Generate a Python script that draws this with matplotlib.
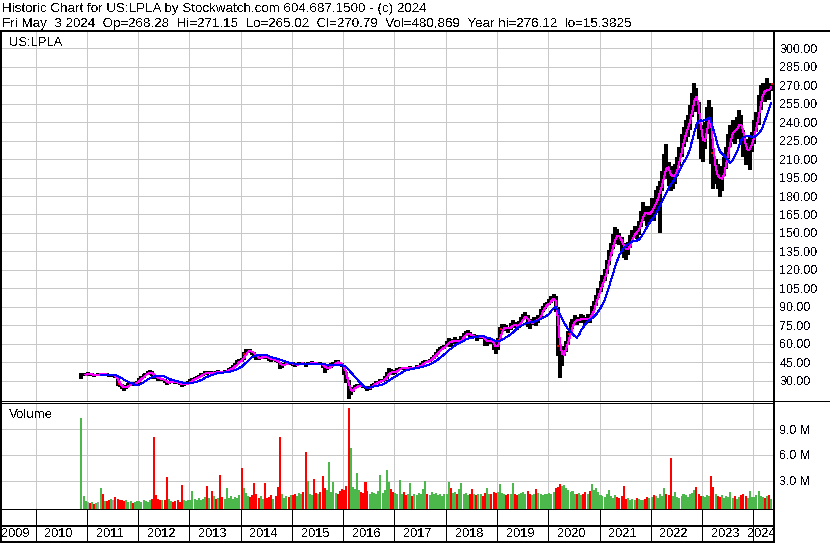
import numpy as np
import pandas as pd
import matplotlib
matplotlib.use("Agg")
import matplotlib.pyplot as plt
from matplotlib.lines import Line2D

plt.rcParams['font.family'] = ['Liberation Sans', 'DejaVu Sans']
plt.rcParams['text.antialiased'] = False
plt.rcParams['lines.antialiased'] = False
plt.rcParams['patch.antialiased'] = False

# ---------------- data ----------------
header_line1 = "Historic Chart for US:LPLA by Stockwatch.com 604.687.1500 - (c) 2024"
header_parts2 = ["Fri May", "3 2024", "Op=268.28", "Hi=271.15", "Lo=265.02",
                 "Cl=270.79", "Vol=480,869", "Year hi=276.12", "lo=15.3825"]
symbol = "US:LPLA"
volume_title = "Volume"
price_ticks = [30, 45, 60, 75, 90, 105, 120, 135, 150, 165, 180, 195, 210, 225,
               240, 255, 270, 285, 300]
vol_ticks = [3.0, 6.0, 9.0]
year_labels = list(range(2009, 2025))
ipo_price = 30.0

# half-month periods (1st / 15th of each month), Nov 2010 .. May 2024
period_start = pd.date_range('2010-11-15', '2024-05-01', freq='SMS')

close = [
    34.0, 35.0, 35.5,
    35.5, 34.5, 35.0, 34.0, 35.0, 35.0, 35.5, 34.5, 35.5, 35.0, 34.0, 34.5, 34.5, 33.0, 27.0, 26.0, 24.5, 23.5, 25.5, 27.0, 27.5, 27.0, 28.0, 29.0,
    31.0, 33.0, 34.5, 35.5, 36.5, 37.0, 35.0, 33.0, 32.5, 31.5, 31.0, 31.5, 29.0, 28.0, 28.5, 29.5, 29.0, 28.5, 28.0, 27.5, 26.5, 27.0, 27.5, 28.5,
    30.0, 31.5, 32.0, 32.5, 33.5, 35.0, 35.5, 36.8, 36.0, 37.0, 36.0, 37.0, 36.5, 37.5, 37.0, 36.5, 37.5, 38.0, 39.0, 40.0, 41.5, 43.0, 45.0, 47.0,
    46.5, 52.0, 54.0, 54.5, 54.0, 52.5, 50.0, 48.5, 48.0, 49.0, 50.0, 49.5, 48.5, 47.5, 46.5, 47.5, 46.0, 45.0, 41.0, 42.5, 43.5, 44.5, 44.0, 44.5,
    43.0, 42.5, 43.5, 44.0, 44.5, 43.5, 43.0, 44.0, 44.5, 45.0, 44.0, 43.5, 44.0, 43.5, 42.0, 39.0, 40.5, 41.0, 42.5, 44.0, 45.5, 45.0, 43.5, 42.5,
    37.0, 30.0, 19.0, 21.5, 24.0, 25.0, 25.5, 26.5, 25.5, 25.0, 24.5, 23.0, 25.0, 26.5, 27.5, 28.5, 29.0, 30.0, 30.5, 32.0, 35.0, 38.0, 37.0, 35.5,
    38.0, 39.5, 40.0, 40.5, 40.0, 39.5, 40.5, 41.0, 40.0, 40.5, 41.5, 42.0, 43.0, 44.5, 46.0, 45.5, 47.0, 48.5, 50.0, 52.0, 54.5, 56.0, 57.0, 57.5,
    61.0, 63.5, 60.5, 62.0, 63.0, 61.0, 62.5, 64.5, 67.0, 68.5, 69.0, 66.0, 65.5, 66.5, 64.0, 65.5, 66.0, 65.0, 60.0, 62.5, 63.5, 61.5, 57.0, 55.0,
    63.0, 72.0, 73.5, 74.0, 72.0, 71.5, 75.0, 76.5, 74.5, 73.0, 77.0, 80.5, 82.0, 83.5, 76.0, 75.5, 78.5, 80.0, 77.0, 81.5, 86.0, 89.0, 91.5, 92.5,
    94.0, 96.5, 98.5, 90.0, 58.0, 45.0, 53.0, 55.0, 60.0, 68.0, 74.0, 78.0, 80.5, 78.0, 80.0, 81.5, 80.0, 78.5, 82.0, 79.5, 88.0, 92.0, 98.0, 103.0,
    108.0, 112.0, 118.0, 125.0, 132.0, 138.0, 145.0, 150.0, 147.0, 145.0, 140.0, 136.0, 134.0, 140.0, 145.0, 148.0, 152.0, 150.0, 156.0, 163.0, 170.0, 166.0, 162.0, 168.0,
    172.0, 170.0, 180.0, 184.0, 186.0, 196.0, 208.0, 202.0, 200.0, 192.0, 196.0, 200.0, 206.0, 214.0, 224.0, 230.0, 236.0, 238.0, 248.0, 258.0, 266.0, 258.0, 238.0, 218.0,
    222.0, 234.0, 246.0, 250.0, 215.0, 196.0, 200.0, 196.0, 188.0, 198.0, 206.0, 214.0, 224.0, 232.0, 236.0, 230.0, 238.0, 244.0, 232.0, 220.0, 214.0, 218.0, 222.0, 226.0,
    236.0, 242.0, 254.0, 264.0, 266.0, 264.0, 268.0, 266.0, 270.8,
]

high = [
    36.0, 36.0, 36.5,
    37.0, 36.0, 36.0, 35.5, 35.5, 36.0, 36.5, 35.5, 36.5, 36.0, 35.5, 35.5, 35.5, 35.0, 33.0, 28.0, 27.0, 25.5, 26.5, 28.5, 29.0, 28.5, 29.0, 30.0,
    32.0, 34.0, 35.5, 36.5, 37.5, 38.5, 37.5, 35.5, 34.0, 33.0, 32.0, 32.5, 31.5, 29.5, 29.5, 30.5, 30.5, 29.5, 29.0, 28.5, 28.0, 28.0, 28.5, 29.5,
    31.0, 32.5, 33.0, 33.5, 34.5, 36.0, 36.5, 37.5, 37.5, 38.0, 37.5, 38.0, 38.0, 38.5, 38.0, 37.5, 38.5, 39.0, 40.0, 41.5, 43.0, 44.5, 46.5, 48.0,
    48.5, 53.5, 55.5, 56.0, 55.5, 54.5, 53.0, 50.5, 49.5, 50.0, 51.0, 51.0, 50.0, 49.0, 48.0, 48.5, 48.0, 46.5, 45.0, 43.5, 44.5, 45.5, 45.5, 45.5,
    45.0, 44.0, 44.5, 45.0, 45.5, 45.0, 44.5, 45.0, 45.5, 46.0, 45.5, 45.0, 45.0, 45.0, 44.0, 42.5, 42.0, 42.5, 44.0, 45.5, 47.0, 46.5, 45.5, 44.5,
    42.5, 37.0, 30.5, 23.0, 25.0, 26.5, 27.0, 27.5, 27.0, 26.0, 26.0, 25.0, 26.0, 27.5, 28.5, 29.5, 30.0, 31.0, 31.5, 33.5, 37.0, 40.0, 39.5, 37.5,
    39.0, 40.5, 41.0, 41.5, 41.5, 40.5, 41.0, 42.0, 41.5, 41.5, 42.5, 43.0, 44.0, 46.0, 47.0, 47.0, 48.0, 49.5, 51.0, 53.5, 56.0, 57.5, 58.5, 59.0,
    62.5, 65.0, 64.0, 63.5, 65.5, 64.0, 64.0, 66.0, 68.5, 70.0, 71.5, 69.5, 67.5, 68.0, 67.0, 67.0, 67.5, 67.0, 65.5, 64.0, 65.5, 64.0, 62.0, 58.0,
    65.0, 74.0, 76.0, 76.0, 75.0, 73.5, 76.5, 79.0, 77.5, 75.5, 78.5, 82.0, 84.0, 86.0, 83.0, 78.0, 80.5, 82.0, 80.5, 83.0, 88.0, 90.5, 93.0, 94.0,
    96.0, 98.5, 100.5, 99.0, 90.0, 60.0, 56.0, 58.0, 62.0, 70.0, 78.0, 80.5, 83.0, 82.0, 82.0, 84.0, 83.5, 81.5, 84.0, 83.5, 91.0, 94.5, 100.0, 105.5,
    111.0, 116.0, 121.0, 128.0, 136.0, 142.0, 149.0, 155.0, 153.0, 150.0, 147.0, 142.0, 139.0, 143.0, 148.0, 152.0, 156.0, 155.0, 160.0, 168.0, 175.0, 172.0, 168.0, 172.0,
    178.0, 177.0, 185.0, 188.0, 192.0, 200.0, 214.0, 222.0, 208.0, 204.0, 202.0, 206.0, 212.0, 220.0, 230.0, 236.0, 242.0, 246.0, 254.0, 264.0, 272.0, 268.0, 256.0, 238.0,
    230.0, 240.0, 252.0, 258.0, 252.0, 218.0, 210.0, 206.0, 200.0, 204.0, 212.0, 220.0, 230.0, 238.0, 242.0, 240.0, 244.0, 250.0, 246.0, 234.0, 224.0, 226.0, 228.0, 232.0,
    242.0, 248.0, 262.0, 270.0, 272.0, 270.0, 276.1, 272.0, 271.2,
]

low = [
    31.5, 33.5, 34.0,
    34.5, 33.5, 34.0, 33.0, 33.5, 34.0, 34.5, 33.5, 34.0, 34.0, 33.0, 33.0, 33.5, 32.0, 25.5, 24.5, 23.5, 22.0, 23.0, 25.0, 26.0, 25.5, 26.5, 27.5,
    28.5, 30.5, 32.5, 34.0, 35.0, 35.5, 34.0, 31.5, 31.0, 30.0, 29.5, 30.0, 28.0, 26.5, 27.5, 28.0, 28.0, 27.5, 27.0, 26.5, 25.0, 25.5, 26.5, 27.0,
    28.0, 29.5, 31.0, 31.0, 32.0, 33.0, 34.0, 35.0, 35.0, 35.5, 35.0, 35.5, 35.5, 36.0, 35.5, 35.5, 36.0, 37.0, 37.5, 38.5, 40.0, 41.5, 43.0, 45.0,
    45.5, 46.5, 51.5, 53.0, 52.5, 51.0, 49.0, 47.0, 46.5, 47.5, 48.5, 48.0, 47.5, 46.0, 45.0, 46.0, 45.0, 44.0, 39.5, 40.0, 42.0, 43.0, 42.5, 43.0,
    42.0, 41.5, 42.0, 43.0, 43.0, 42.5, 41.5, 42.5, 43.5, 44.0, 43.0, 42.5, 42.5, 42.5, 40.5, 36.5, 38.5, 39.5, 40.5, 42.0, 43.5, 43.5, 42.0, 41.0,
    35.0, 28.0, 15.4, 18.5, 21.0, 23.0, 24.0, 25.0, 24.5, 24.0, 23.5, 21.5, 22.5, 24.5, 26.0, 27.0, 27.5, 28.5, 29.0, 30.0, 31.5, 35.0, 36.0, 34.5,
    35.5, 37.5, 38.5, 39.5, 39.0, 38.5, 39.0, 39.5, 39.0, 39.5, 40.0, 41.0, 41.5, 43.0, 44.0, 44.5, 45.0, 46.5, 48.0, 49.5, 52.0, 54.0, 55.0, 56.0,
    57.0, 60.5, 57.5, 59.5, 61.0, 59.5, 60.0, 62.0, 64.0, 66.5, 67.0, 64.5, 64.0, 64.5, 62.5, 63.5, 64.0, 63.5, 58.0, 58.5, 61.0, 59.5, 55.0, 52.0,
    55.0, 63.0, 71.0, 72.0, 70.0, 69.0, 71.5, 74.0, 72.5, 71.0, 72.5, 77.0, 80.0, 81.5, 73.5, 72.0, 75.0, 77.5, 74.5, 76.5, 81.5, 86.0, 88.5, 90.5,
    91.5, 93.0, 95.5, 86.0, 50.0, 32.0, 42.0, 50.0, 53.0, 59.0, 67.0, 72.0, 76.5, 75.5, 77.0, 79.0, 77.0, 75.5, 77.5, 77.0, 80.0, 87.5, 91.0, 97.0,
    102.0, 106.0, 111.0, 117.0, 124.0, 131.0, 137.0, 144.0, 141.0, 140.0, 135.0, 130.0, 128.0, 132.0, 138.0, 143.0, 146.0, 145.0, 148.0, 155.0, 162.0, 160.0, 156.0, 160.0,
    162.0, 160.0, 168.0, 175.0, 150.0, 184.0, 194.0, 194.0, 188.0, 184.0, 186.0, 190.0, 196.0, 204.0, 212.0, 220.0, 224.0, 228.0, 234.0, 244.0, 252.0, 248.0, 226.0, 210.0,
    208.0, 218.0, 230.0, 238.0, 206.0, 186.0, 190.0, 186.0, 179.0, 184.0, 196.0, 202.0, 210.0, 220.0, 224.0, 222.0, 226.0, 232.0, 224.0, 212.0, 205.0, 208.0, 201.0, 216.0,
    222.0, 232.0, 238.0, 250.0, 256.0, 256.0, 258.0, 258.0, 265.0,
]

volume_m = [
    10.3, 1.2, 0.6,
    0.5, 0.4, 0.5, 0.3, 0.4, 0.5, 2.1, 1.4, 0.6, 0.6, 0.7, 0.9, 0.8, 1.1, 0.9, 0.7, 0.8, 0.6, 0.7, 0.5, 0.6, 0.4, 0.5, 0.6,
    0.6, 0.5, 0.7, 0.6, 0.5, 0.8, 0.9, 8.1, 1.3, 0.9, 0.8, 0.7, 0.8, 3.4, 0.9, 0.6, 0.5, 0.6, 0.7, 0.5, 2.5, 0.8, 0.6, 0.7,
    0.8, 1.8, 0.9, 0.7, 1.0, 0.8, 0.9, 1.1, 2.4, 1.0, 1.8, 1.2, 0.9, 1.0, 3.7, 1.1, 0.9, 2.1, 1.0, 1.2, 0.9, 1.1, 1.0, 1.3,
    4.5, 2.2, 1.6, 1.2, 1.1, 1.3, 2.7, 1.4, 1.0, 1.2, 0.9, 2.7, 1.0, 1.1, 1.3, 0.9, 1.2, 2.3, 8.1, 1.5, 1.0, 1.2, 1.1, 1.3,
    1.3, 1.5, 1.2, 1.6, 1.4, 1.7, 6.3, 3.0, 1.5, 1.3, 3.2, 1.6, 1.4, 1.7, 3.6, 2.1, 1.9, 5.2, 1.7, 2.8, 1.6, 1.4, 1.8, 2.0,
    1.9, 2.4, 11.5, 6.8, 2.3, 2.0, 3.9, 1.9, 1.7, 1.6, 2.8, 1.8, 1.5, 1.7, 1.6, 1.4, 1.8, 3.7, 1.6, 1.9, 4.2, 2.8, 2.0, 1.7,
    1.6, 1.4, 3.1, 1.5, 1.7, 1.3, 1.4, 2.7, 1.2, 1.5, 1.3, 1.6, 1.4, 2.0, 3.0, 1.5, 1.3, 1.7, 1.4, 1.6, 1.3, 1.5, 1.2, 1.4,
    1.5, 2.8, 2.1, 1.6, 1.7, 1.4, 2.0, 2.7, 1.5, 1.6, 1.3, 1.5, 2.0, 1.4, 1.3, 1.5, 1.4, 1.2, 1.6, 2.2, 1.5, 1.4, 1.7, 1.6,
    1.7, 2.6, 1.6, 1.4, 1.3, 1.5, 1.4, 2.7, 1.5, 1.3, 1.4, 1.6, 1.7, 1.5, 1.8, 1.4, 1.3, 1.5, 2.0, 1.6, 1.4, 1.3, 1.5, 1.4,
    1.6, 1.5, 1.7, 2.2, 2.3, 2.6, 2.4, 2.5, 2.1, 1.9, 1.7, 1.8, 1.5, 1.4, 1.6, 1.3, 1.5, 1.7, 1.4, 1.8, 2.6, 1.9, 2.1, 1.7,
    1.3, 1.2, 1.1, 1.4, 1.9, 1.2, 1.0, 1.3, 1.1, 1.0, 1.2, 2.4, 0.9, 1.0, 0.8, 0.9, 0.8, 1.0, 0.9, 0.7, 0.8, 0.9, 1.1, 1.0,
    1.1, 1.3, 1.2, 1.0, 1.4, 1.2, 2.1, 1.5, 1.3, 5.6, 1.2, 1.7, 1.1, 1.0, 1.2, 1.4, 1.3, 1.1, 1.5, 1.6, 1.9, 2.3, 1.4, 1.2,
    1.2, 1.1, 1.3, 1.2, 3.5, 2.3, 1.4, 1.2, 1.1, 1.3, 1.0, 1.2, 1.1, 1.7, 1.0, 1.2, 0.9, 1.1, 1.3, 1.5, 1.2, 1.0, 1.8, 1.1,
    1.1, 1.3, 1.8, 1.2, 1.1, 1.0, 1.2, 1.3, 0.9,
]

# ---------------- derived ----------------
def to_year(d):
    s = pd.Timestamp(year=d.year, month=1, day=1)
    e = pd.Timestamp(year=d.year + 1, month=1, day=1)
    return d.year + (d - s) / (e - s)

t = np.array([to_year(d + pd.Timedelta(days=7)) for d in period_start])
close_a = np.array(close)
high_a = np.array(high)
low_a = np.array(low)
ma_short = pd.Series(close_a).rolling(3).mean().values
ma_long = pd.Series(close_a).rolling(10).mean().values
prev = np.concatenate([[ipo_price], close_a[:-1]])
vol_colors = np.where(close_a > prev, '#4cb84c', np.where(close_a < prev, '#ff0000', '#a0a0a0'))
rng = high_a - low_a
at_extreme = (close_a >= high_a - 0.22 * rng) | (close_a <= low_a + 0.22 * rng)

# ---------------- layout ----------------
W, H = 830, 543
fig = plt.figure(figsize=(W / 100, H / 100), dpi=100)
fig.patch.set_facecolor('white')

def fx(px):
    return px / W

def fy(py):
    return 1 - py / H

x_left_px, x_right_px = 1.0, 773.5
yr_per_px = 1 / 51.257
x0 = 2010 + (x_left_px - 35.7) * yr_per_px
x1 = 2010 + (x_right_px - 35.7) * yr_per_px
axw = fx(x_right_px) - fx(x_left_px)

ax_p = fig.add_axes([fx(x_left_px), fy(401), axw, (401 - 31) / H])
ax_v = fig.add_axes([fx(x_left_px), fy(509.5), axw, (509.5 - 402.5) / H], sharex=ax_p)
ax_y = fig.add_axes([fx(x_left_px), fy(541.5), axw, (541.5 - 509.5) / H], sharex=ax_p)

px_pt = 0.72
grid_col = '#c8c8c8'
boundaries = list(range(2010, 2025))

# price panel
ax_p.set_xlim(x0, x1)
ax_p.set_ylim(13.49, 314.05)
ax_p.vlines(t, low_a, high_a, color='black', lw=2.1 * px_pt, zorder=3)
ax_p.scatter(t[at_extreme] + 0.8 * yr_per_px, close_a[at_extreme], marker='s',
             s=(1.6 * px_pt) ** 2, color='#ff0000', linewidths=0, zorder=3.5)
ax_p.plot(t, ma_short, color='#ff00ff', lw=1.0 * px_pt, zorder=4)
ax_p.plot(t, ma_long, color='#0000ff', lw=1.0 * px_pt, zorder=5)
ax_p.set_xticks(boundaries)
ax_p.set_yticks(price_ticks)
ax_p.set_yticklabels([f"{v:.2f}" for v in price_ticks])
ax_p.yaxis.tick_right()
ax_p.tick_params(axis='y', length=0, pad=4.2, labelsize=9, labelcolor='#000010')
ax_p.tick_params(axis='x', length=0, labelbottom=False)
ax_p.grid(True, color=grid_col, lw=1 * px_pt, zorder=0)
ax_p.set_axisbelow(True)
for side, lw in (('top', 2), ('left', 2), ('right', 2), ('bottom', 1)):
    ax_p.spines[side].set_linewidth(lw * px_pt)

# volume panel
vfloor = -0.35
ax_v.set_ylim(vfloor, 12.09)
ax_v.bar(t, np.array(volume_m) - vfloor, bottom=vfloor, width=0.95 / 24,
         color=vol_colors, linewidth=0, zorder=2)
ax_v.set_yticks(vol_ticks)
ax_v.set_yticklabels([f"{v:.1f} M" for v in vol_ticks])
ax_v.yaxis.tick_right()
ax_v.tick_params(axis='y', length=0, pad=4.2, labelsize=9, labelcolor='#000010')
ax_v.tick_params(axis='x', length=0, labelbottom=False)
ax_v.grid(True, color=grid_col, lw=1 * px_pt, zorder=0)
ax_v.set_axisbelow(True)
for side, lw in (('top', 1), ('left', 2), ('right', 2), ('bottom', 2)):
    ax_v.spines[side].set_linewidth(lw * px_pt)

# year band
ax_y.set_ylim(0, 1)
ax_y.tick_params(axis='both', length=0, labelbottom=False, labelleft=False)
ax_y.set_yticks([])
ax_y.spines['top'].set_visible(False)
for side in ('left', 'right', 'bottom'):
    ax_y.spines[side].set_linewidth(2 * px_pt)
ax_y.axhline(0.478, color='black', lw=2 * px_pt)
for b in boundaries:
    ax_y.axvline(b, color='black', lw=1 * px_pt)
for yv in year_labels:
    a = max(yv, x0)
    b = min(yv + 1, x1)
    ax_y.text((a + b) / 2 - 0.045, 0.22, str(yv), ha='center', va='center', fontsize=9.2)

# header and labels
fig.add_artist(Line2D([0, 1], [fy(30.6)] * 2, lw=2 * px_pt, color='black',
                      transform=fig.transFigure))
fig.add_artist(Line2D([fx(773), 1], [fy(401)] * 2, lw=1 * px_pt, color='black',
                      transform=fig.transFigure))

renderer = fig.canvas.get_renderer()

def text_width(s, fs):
    tmp = fig.text(0, 0, s, fontsize=fs)
    w = tmp.get_window_extent(renderer=renderer).width
    tmp.remove()
    return w

def fitted_text(x_px, y_px, s, target_w):
    fs = 9 * target_w / text_width(s, 9)
    fig.text(fx(x_px), fy(y_px), s, fontsize=fs, va='baseline', ha='left')
    return fs

fs_head = fitted_text(1.7, 11.7, header_line1, 426)
# choose the gap width in line 2 so that "Vol=" ends near x=420 as in the reference
best = None
for gap in (2, 3, 4):
    prefix = (" " * gap).join(header_parts2[:6]) + " " * gap + "Vol="
    err = abs(1.7 + text_width(prefix, fs_head) - 420)
    if best is None or err < best[0]:
        best = (err, gap)
header_line2 = (" " * best[1]).join(header_parts2)
fig.text(fx(1.7), fy(27.3), header_line2, fontsize=fs_head, va='baseline', ha='left')
fitted_text(9.3, 45.5, symbol, 53.4)
fitted_text(9.3, 417.5, volume_title, 44)

fig.savefig('out.png', dpi=100)
